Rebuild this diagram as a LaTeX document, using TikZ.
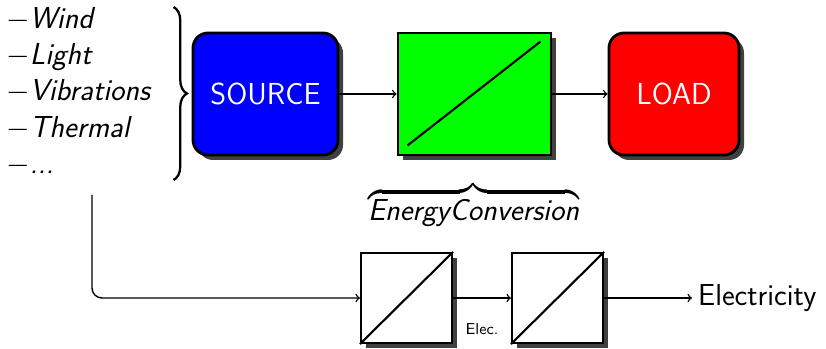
\documentclass[tikz,border=0pt]{standalone}
\usepackage{exscale}
\usetikzlibrary{shadows, decorations.pathreplacing}
\renewcommand{\familydefault}{\sfdefault}
\begin{document}
\begin{tikzpicture}[
    shade box/.style={drop shadow={shadow xshift=0.1cm, shadow yshift=-0.1cm, fill=black!75, opacity=1}},
    block/.style={draw, line width=1.6pt, minimum height=2.44cm, shade box},
    rblock/.style={block, rounded corners=0.3cm, text=white, font=\LARGE},
    cbox/.style={draw, very thick, fill=white, minimum width=1.82cm, minimum height=1.8cm, shade box},
    flow/.style={->, thick}
  ]
  \useasboundingbox (0,0) rectangle (16.52,6.96);

  % Harvested energy
  \node[anchor=west, inner sep=0pt, font=\LARGE] (inputs) at (0.12,5.09)
    {\renewcommand{\arraystretch}{0.94}\begin{tabular}{@{}l@{}}
      $-$\textit{Wind}\\
      $-$\textit{Light}\\
      $-$\textit{Vibrations}\\
      $-$\textit{Thermal}\\
      $-$\textit{...}
    \end{tabular}};
  \coordinate (brace top) at (3.47,6.82);
  \coordinate (brace bottom) at (3.47,3.36);
  \draw[decorate, decoration={brace, amplitude=0.27cm}, line width=1.3pt] (brace top) -- (brace bottom);

  % Chain
  \node[rblock, fill=blue, minimum width=2.9cm] (src) at (5.31,5.08) {SOURCE};
  \node[block, fill=green, minimum width=3.06cm] (conv) at (9.49,5.08) {};
  \node[rblock, fill=red, minimum width=2.6cm] (load) at (13.48,5.08) {LOAD};

  \draw[line width=1.2pt] ([shift={(0.22,0.22)}]conv.south west) -- ([shift={(-0.24,-0.2)}]conv.north east);

  \draw[flow] (src) -- (conv);
  \draw[flow] (conv) -- (load);

  \node[font=\LARGE] (energy) at (9.47,2.85) {$\overbrace{\textit{EnergyConversion}}$};

  % Converters
  \node[cbox] (conv1) at (8.13,1.0) {};
  \node[cbox] (conv2) at (11.15,1.0) {};
  \draw[very thick] (conv1.south west) -- (conv1.north east);
  \draw[very thick] (conv2.south west) -- (conv2.north east);

  \coordinate (tap) at (1.84,3.06);
  \node[anchor=west, font=\LARGE] (out) at (13.84,1.0) {Electricity};
  \node[font=\small] (elec) at (9.64,0.38) {Elec.};

  \draw[flow, rounded corners=0.2cm] (tap) |- (conv1.west);
  \draw[flow] (conv1) -- (conv2);
  \draw[flow] (conv2) -- (out);
\end{tikzpicture}
\end{document}
